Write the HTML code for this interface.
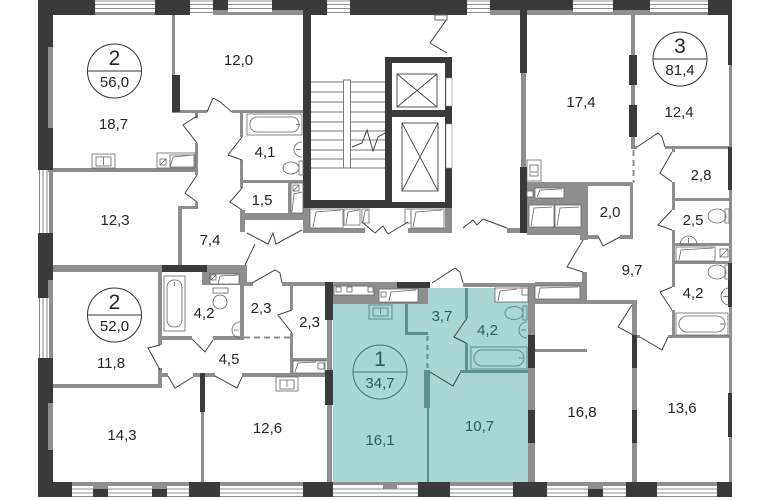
<!DOCTYPE html>
<html><head><meta charset="utf-8">
<style>
html,body{margin:0;padding:0;background:#fff;width:770px;height:500px;overflow:hidden}
svg{display:block}
.t{font-family:"Liberation Sans",Arial,sans-serif;font-size:15px;fill:#262626;text-anchor:middle}
.tb{font-family:"Liberation Sans",Arial,sans-serif;font-size:21px;fill:#262626;text-anchor:middle}
.tt{font-family:"Liberation Sans",Arial,sans-serif;font-size:15px;fill:#2d5f5b;text-anchor:middle}
.ttb{font-family:"Liberation Sans",Arial,sans-serif;font-size:21px;fill:#2d5f5b;text-anchor:middle}
</style></head><body>
<svg width="770" height="500" viewBox="0 0 770 500" xmlns="http://www.w3.org/2000/svg">
<rect width="770" height="500" fill="#fff"/>

<!-- teal apartment fill -->
<rect x="333" y="303" width="97" height="180" fill="#a9d5d3"/>
<rect x="428" y="288" width="100" height="195" fill="#a9d5d3"/>

<!-- top windows -->
<g stroke="#6a6a6a" stroke-width="0.8" fill="none">
<path d="M95 1H155M95 4.5H155M95 8.5H155M95 12.5H155"/>
<path d="M190 1H213M190 4.5H213M190 8.5H213M190 12.5H213"/>
<path d="M228 1H272M228 4.5H272M228 8.5H272M228 12.5H272"/>
<path d="M327 1H350M327 4.5H350M327 8.5H350M327 12.5H350"/>
<path d="M467 1H490M467 4.5H490M467 8.5H490M467 12.5H490"/>
<path d="M573 1H613M573 4.5H613M573 8.5H613M573 12.5H613"/>
<path d="M650 1H708M650 4.5H708M650 8.5H708M650 12.5H708"/>
<!-- left windows -->
<path d="M39.5 170V233M43 170V233M47 170V233"/>
<path d="M39.5 298V358M43 298V358M47 298V358"/>
<!-- bottom windows -->
<path d="M72 489H189M72 493H189M72 496.5H189"/>
<path d="M220 489H303M220 493H303M220 496.5H303"/>
<path d="M333 489H418M333 493H418M333 496.5H418"/>
<path d="M450 489H513M450 493H513M450 496.5H513"/>
<path d="M547 489H626M547 493H626M547 496.5H626"/>
<path d="M657 489H717M657 493H717M657 496.5H717"/>
</g>

<!-- grey walls -->
<g fill="#8e8e8e">
<!-- window sills -->
<rect x="95" y="13" width="60" height="2"/>
<rect x="228" y="13" width="44" height="2"/>
<rect x="573" y="13" width="40" height="2"/>
<rect x="650" y="13" width="58" height="2"/>
<rect x="49" y="170" width="4" height="63"/>
<rect x="49" y="298" width="4" height="60"/>
<rect x="72" y="482" width="117" height="4"/>
<rect x="220" y="482" width="83" height="4"/>
<rect x="333" y="482" width="85" height="3"/>
<rect x="450" y="482" width="63" height="4"/>
<rect x="547" y="482" width="79" height="4"/>
<rect x="657" y="482" width="60" height="4"/>
<!-- outer wall inner greys -->
<rect x="729" y="15" width="3" height="467"/>
<rect x="48" y="47" width="5" height="81"/>
<rect x="48" y="280" width="5" height="18"/>
<rect x="48" y="403" width="5" height="47"/>
<rect x="213" y="10" width="15" height="5"/>
<rect x="272" y="10" width="31" height="5"/>
<rect x="490" y="10" width="30" height="5"/>
<rect x="527" y="10" width="46" height="5"/>
<rect x="613" y="10" width="37" height="5"/>
<rect x="93" y="482" width="15" height="7"/>
<rect x="152" y="482" width="15" height="7"/>
<rect x="588" y="482" width="15" height="7"/>
<rect x="383" y="482" width="14" height="7"/>

<!-- apt 2 top -->
<rect x="172" y="15" width="3" height="60"/>
<rect x="172" y="110" width="35" height="3"/>
<rect x="232" y="110" width="73" height="3"/>
<rect x="48" y="168" width="150" height="4"/>
<rect x="195" y="112" width="3" height="6"/>
<rect x="195" y="143" width="3" height="32"/>
<rect x="195" y="202" width="3" height="7"/>
<rect x="178" y="206" width="20" height="3"/>
<rect x="178" y="206" width="4" height="62"/>
<rect x="240" y="112" width="3" height="25"/>
<rect x="240" y="160" width="3" height="28"/>
<rect x="240" y="210" width="5" height="22"/>
<rect x="243" y="180" width="62" height="3"/>
<rect x="288" y="183" width="3" height="30"/>
<rect x="240" y="213" width="65" height="7"/>
<rect x="303" y="208" width="7" height="25"/>

<!-- apt 2 bottom -->
<rect x="48" y="265" width="114" height="7"/>
<rect x="207" y="265" width="40" height="7"/>
<rect x="202" y="272" width="45" height="13"/>
<rect x="158" y="272" width="4" height="73"/>
<rect x="158" y="368" width="4" height="20"/>
<rect x="48" y="384" width="114" height="4"/>
<rect x="162" y="336" width="30" height="4"/>
<rect x="213" y="336" width="31" height="4"/>
<rect x="240" y="265" width="4" height="73"/>
<rect x="243" y="282" width="10" height="4"/>
<rect x="282" y="282" width="45" height="4"/>
<rect x="290" y="285" width="3" height="25"/>
<rect x="290" y="333" width="3" height="42"/>
<rect x="290" y="358" width="37" height="3"/>
<rect x="160" y="373" width="8" height="4"/>
<rect x="193" y="373" width="22" height="4"/>
<rect x="242" y="373" width="85" height="4"/>
<rect x="201" y="412" width="3" height="70"/>
<rect x="327" y="320" width="5" height="50"/>
<rect x="327" y="405" width="5" height="77"/>

<!-- stair / corridor -->
<rect x="303" y="228" width="62" height="5"/>
<rect x="408" y="228" width="44" height="5"/>
<rect x="445" y="208" width="7" height="25"/>
<rect x="507" y="228" width="13" height="5"/>
<rect x="521" y="73" width="5" height="94"/>

<!-- teal apt top -->
<rect x="333" y="282" width="64" height="4"/>
<rect x="333" y="285" width="95" height="19"/>
<rect x="463" y="283" width="72" height="4"/>
<rect x="528" y="283" width="7" height="199"/>

<!-- apt 3 -->
<rect x="631" y="15" width="4" height="132"/>
<rect x="631" y="146" width="6" height="3"/>
<rect x="665" y="146" width="67" height="3"/>
<rect x="527" y="182" width="105" height="4"/>
<rect x="527" y="186" width="58" height="49"/>
<rect x="584" y="183" width="4" height="57"/>
<rect x="584" y="235" width="14" height="4"/>
<rect x="620" y="235" width="12" height="4"/>
<rect x="630" y="183" width="3" height="56"/>
<rect x="582" y="272" width="5" height="31"/>
<rect x="580" y="233" width="7" height="7"/>
<rect x="535" y="282" width="47" height="3"/>
<rect x="535" y="285" width="47" height="15"/>
<rect x="672" y="147" width="3" height="5"/>
<rect x="672" y="182" width="3" height="28"/>
<rect x="672" y="230" width="3" height="57"/>
<rect x="672" y="310" width="3" height="28"/>
<rect x="672" y="198" width="60" height="3"/>
<rect x="672" y="243" width="60" height="3"/>
<rect x="672" y="261" width="60" height="3"/>
<rect x="637" y="335" width="3" height="3"/>
<rect x="668" y="335" width="64" height="3"/>
<rect x="535" y="300" width="102" height="4"/>
<rect x="632" y="300" width="5" height="182"/>
<rect x="535" y="349" width="52" height="3"/>
</g>

<!-- dark walls -->
<g fill="#3a3a3a">
<rect x="38" y="0" width="57" height="15"/>
<rect x="155" y="0" width="35" height="15"/>
<rect x="213" y="0" width="15" height="10"/>
<rect x="272" y="0" width="55" height="10"/>
<rect x="303" y="10" width="24" height="5"/>
<rect x="350" y="0" width="117" height="15"/>
<rect x="490" y="0" width="83" height="10"/>
<rect x="520" y="10" width="7" height="5"/>
<rect x="613" y="0" width="37" height="10"/>
<rect x="708" y="0" width="24" height="15"/>
<rect x="38" y="0" width="10" height="170"/>
<rect x="48" y="0" width="5" height="47"/>
<rect x="48" y="128" width="5" height="42"/>
<rect x="38" y="233" width="10" height="65"/>
<rect x="48" y="233" width="5" height="47"/>
<rect x="38" y="358" width="10" height="139"/>
<rect x="48" y="358" width="5" height="45"/>
<rect x="48" y="450" width="5" height="47"/>
<rect x="728" y="15" width="4" height="50"/>
<rect x="728" y="147" width="4" height="43"/>
<rect x="728" y="263" width="4" height="44"/>
<rect x="728" y="393" width="4" height="44"/>
<rect x="38" y="482" width="34" height="15"/>
<rect x="93" y="489" width="15" height="8"/>
<rect x="152" y="489" width="15" height="8"/>
<rect x="189" y="482" width="31" height="15"/>
<rect x="303" y="482" width="30" height="15"/>
<rect x="418" y="482" width="32" height="15"/>
<rect x="513" y="482" width="34" height="15"/>
<rect x="588" y="489" width="15" height="8"/>
<rect x="626" y="482" width="31" height="15"/>
<rect x="717" y="482" width="15" height="15"/>
<!-- interior dark -->
<rect x="172" y="75" width="8" height="37"/>
<rect x="303" y="15" width="8" height="193"/>
<rect x="303" y="200" width="149" height="8"/>
<rect x="385" y="57" width="67" height="151"/>
<rect x="520" y="15" width="7" height="58"/>
<rect x="520" y="167" width="7" height="66"/>
<rect x="162" y="265" width="45" height="7"/>
<rect x="200" y="373" width="5" height="39"/>
<rect x="325" y="282" width="8" height="38"/>
<rect x="325" y="370" width="8" height="35"/>
<rect x="397" y="282" width="33" height="6"/>
<rect x="528" y="335" width="7" height="33"/>
<rect x="528" y="410" width="7" height="33"/>
<rect x="629" y="55" width="8" height="30"/>
<rect x="629" y="105" width="8" height="32"/>
<rect x="632" y="335" width="5" height="33"/>
<rect x="632" y="410" width="5" height="33"/>
</g>

<!-- teal dark walls -->
<g fill="#5b918e">
<rect x="405" y="304" width="3" height="31"/>
<rect x="405" y="332" width="23" height="3"/>
<rect x="424" y="370" width="6" height="38"/>
<rect x="427" y="408" width="2" height="74"/>
<rect x="465" y="288" width="3" height="30"/>
<rect x="465" y="343" width="3" height="29"/>
<rect x="460" y="370" width="68" height="3"/>
</g>
<line x1="427.5" y1="336" x2="427.5" y2="370" stroke="#5b918e" stroke-width="2" stroke-dasharray="5,4"/>
<line x1="244" y1="337.5" x2="290" y2="337.5" stroke="#8e8e8e" stroke-width="2" stroke-dasharray="6,4"/>
<line x1="633.5" y1="150" x2="633.5" y2="183" stroke="#8e8e8e" stroke-width="2" stroke-dasharray="6,4"/>

<!-- lift block interior -->
<rect x="392" y="63" width="53" height="47" fill="#fff"/>
<rect x="392" y="117" width="53" height="85" fill="#fff"/>
<rect x="446" y="78" width="6" height="28" fill="#fff" stroke="#888" stroke-width="0.6"/>
<rect x="446" y="124" width="6" height="44" fill="#fff" stroke="#888" stroke-width="0.6"/>
<g stroke="#444" stroke-width="0.9" fill="none">
<rect x="397" y="74" width="40" height="33"/>
<path d="M397 74L437 107M437 74L397 107"/>
<rect x="402" y="123" width="36" height="68"/>
<path d="M402 123L438 191M438 123L402 191"/>
</g>

<!-- stairs -->
<g stroke="#7a7a7a" stroke-width="1">
<path d="M311 82H385M311 92H385M311 102H385M311 112H385M311 122H385M311 131H385M311 140H385M311 150H385M311 159H385M311 168H385"/>
</g>
<rect x="343.5" y="80" width="7" height="88" fill="#fff" stroke="#7a7a7a" stroke-width="1"/>
<polyline points="352,147 362,143 367,130 373,151 378,137 385,133" fill="none" stroke="#444" stroke-width="1"/>

<!-- white closet boxes / fixtures -->
<g fill="#fff" stroke="#666" stroke-width="0.8">
<!-- apt2 top -->
<rect x="92" y="154" width="23" height="14"/>
<rect x="157" y="153" width="38" height="15"/>
<rect x="247" y="114" width="55" height="21"/>
<rect x="291" y="183" width="12" height="30"/>
<rect x="310" y="209" width="33" height="19"/>
<rect x="344" y="209" width="16" height="16"/>
<rect x="362" y="209" width="7" height="14"/>
<rect x="405" y="209" width="6" height="14"/>
<rect x="411" y="209" width="33" height="19"/>
<!-- apt2 bottom -->
<rect x="210" y="274" width="29" height="10"/>
<rect x="164" y="276" width="21" height="55"/>
<rect x="276" y="377" width="22" height="14"/>
<rect x="293" y="361" width="32" height="12"/>
<!-- teal top closets -->
<rect x="334" y="286" width="40" height="9"/>
<rect x="379" y="289" width="39" height="13"/>
<rect x="495" y="288" width="33" height="14"/>
<rect x="522" y="288" width="6" height="7"/>
<rect x="535" y="286" width="45" height="13"/>
<!-- apt 3 -->
<rect x="527" y="160" width="14" height="21"/>
<rect x="535" y="188" width="29" height="10"/>
<rect x="527" y="191" width="6" height="6"/>
<rect x="529" y="205" width="25" height="22"/>
<rect x="555" y="205" width="26" height="22"/>
<rect x="676" y="247" width="39" height="14"/>
<rect x="720" y="249" width="8" height="8"/>
<rect x="676" y="313" width="52" height="22"/>
</g>
<g fill="none" stroke="#666" stroke-width="0.8">
<rect x="96" y="157" width="15" height="9"/>
<path d="M103.5 157V165"/>
<rect x="160" y="159" width="6" height="6"/><path d="M160 165L166 159"/>
<polyline points="170,167 173,157 193,155"/><rect x="170" y="155" width="24" height="12"/>
<rect x="250" y="117" width="49" height="15" rx="7"/>
<path d="M296 124.5h4"/>
<path d="M302 142A8 7.5 0 0 0 302 157"/><path d="M296 149.5h5"/>
<ellipse cx="291" cy="168" rx="8" ry="6"/><rect x="299" y="161" width="4" height="14"/>
<rect x="293" y="185" width="6" height="6"/><path d="M293 191L299 185"/>
<polyline points="292,212 294,194 302,192"/>
<polyline points="313,227 316,212 341,210"/>
<polyline points="346,224 348,212 359,210"/>
<polyline points="363,222 365,211 368,210"/>
<polyline points="413,227 416,212 442,210"/>
<rect x="211" y="275" width="5" height="5"/><path d="M211 280L216 275"/>
<polyline points="218,284 220,276 238,275"/>
<rect x="167" y="280" width="15" height="47" rx="7"/><path d="M174.5 282v4"/>
<ellipse cx="220" cy="302" rx="7" ry="7"/><rect x="213" y="288" width="15" height="5"/>
<path d="M240 322A8 8 0 0 0 240 338"/><path d="M234 330h5"/>
<rect x="280" y="380" width="14" height="9"/><path d="M287 380v7"/>
<polyline points="295,372 298,363 316,362"/><rect x="318" y="363" width="6" height="6"/>
<rect x="336" y="287" width="5" height="5"/><rect x="347" y="287" width="5" height="5"/><rect x="368" y="287" width="5" height="5"/>
<rect x="381" y="292" width="5" height="5"/>
<polyline points="389,301 391,292 416,290"/>
<polyline points="498,301 500,291 517,289"/>
<polyline points="538,298 540,288 578,287"/>
<rect x="530" y="165" width="8" height="11"/><path d="M531 172h6"/>
<polyline points="537,197 540,190 562,189"/>
<polyline points="531,226 534,208 552,207"/>
<polyline points="557,226 560,208 579,207"/>
<ellipse cx="717" cy="216" rx="9" ry="7"/><rect x="725" y="209" width="4" height="14"/>
<path d="M680 245A8.5 9 0 0 1 697 245Z"/><path d="M688.5 238v5"/>
<polyline points="679,260 681,250 713,248"/>
<path d="M720 257L728 249"/>
<ellipse cx="717" cy="272" rx="9" ry="7"/><rect x="725" y="265" width="4" height="14"/>
<path d="M729 288A8 8.5 0 0 0 729 305"/><path d="M723 296.5h5"/>
<rect x="679" y="316" width="46" height="16" rx="8"/><path d="M720 324h5"/>
</g>
<!-- teal fixtures -->
<g fill="none" stroke="#5b918e" stroke-width="1">
<rect x="369" y="305" width="23" height="14"/>
<rect x="373" y="308" width="15" height="8"/><path d="M380.5 308v6"/>
<ellipse cx="514" cy="313" rx="9" ry="6.5"/><rect x="523" y="306" width="4" height="14"/>
<path d="M527 322A8 8 0 0 0 527 338"/><path d="M521 330h5"/>
<rect x="471" y="347" width="56" height="22"/>
<rect x="474" y="350" width="50" height="16" rx="8"/><path d="M519 358h5"/>
</g>

<!-- doors -->
<g fill="none" stroke="#444" stroke-width="1">
<polyline points="197,116 183,125 197,143"/>
<polyline points="197,175 185,193 197,202"/>
<polyline points="207,112 213,98 219,101 232,112"/>
<polyline points="242,137 228,155 242,160"/>
<polyline points="242,188 230,202 242,210"/>
<polyline points="247,233 268,244 273,233 276,244 302,230"/>
<polyline points="255,244 245,265"/>
<polyline points="252,283 275,270 280,273 282,283"/>
<polyline points="292,310 278,315 292,333"/>
<polyline points="192,339 205,352 213,340"/>
<polyline points="160,345 148,348 160,370"/>
<polyline points="168,376 175,388 193,377"/>
<polyline points="215,376 237,388 242,377"/>
<polyline points="432,283 455,268 460,272 463,283"/>
<polyline points="467,318 454,337 466,343"/>
<polyline points="430,372 453,386 460,373"/>
<polyline points="362,222 375,233 383,226 388,234 408,222"/>
<polyline points="463,228 473,220 477,225 483,219 507,228"/>
<polyline points="447,19 430,43 447,53"/>
<rect x="435" y="15" width="12" height="5" fill="#fff" stroke="#666"/>
<polyline points="583,240 567,267 583,272"/>
<polyline points="598,236 603,246 620,237"/>
<polyline points="637,147 658,133 662,137 665,147"/>
<polyline points="672,152 660,173 672,182"/>
<polyline points="672,210 658,225 672,230"/>
<polyline points="672,287 660,292 672,310"/>
<polyline points="632,305 618,327 633,335"/>
<polyline points="640,337 662,350 668,337"/>
</g>

<!-- circles -->
<g fill="none" stroke="#333" stroke-width="1">
<circle cx="114.5" cy="71" r="27"/><line x1="87.5" y1="71" x2="141.5" y2="71"/>
<circle cx="114.5" cy="315" r="27"/><line x1="87.5" y1="315" x2="141.5" y2="315"/>
<circle cx="680" cy="59" r="27"/><line x1="653" y1="59" x2="707" y2="59"/>
</g>
<g fill="none" stroke="#3f7773" stroke-width="1">
<circle cx="380" cy="372" r="27"/><line x1="353" y1="372" x2="407" y2="372"/>
</g>

<!-- labels -->
<text class="tb" x="114.5" y="65">2</text>
<text class="t" x="114.5" y="87">56,0</text>
<text class="tb" x="114.5" y="309">2</text>
<text class="t" x="114.5" y="331">52,0</text>
<text class="tb" x="680" y="53">3</text>
<text class="t" x="680" y="75">81,4</text>
<text class="ttb" x="380" y="366">1</text>
<text class="tt" x="380" y="388">34,7</text>

<text class="t" x="238.5" y="65">12,0</text>
<text class="t" x="113.5" y="129">18,7</text>
<text class="t" x="265" y="157">4,1</text>
<text class="t" x="262" y="205">1,5</text>
<text class="t" x="115" y="225">12,3</text>
<text class="t" x="210" y="245">7,4</text>
<text class="t" x="111" y="368">11,8</text>
<text class="t" x="204" y="318">4,2</text>
<text class="t" x="261" y="313">2,3</text>
<text class="t" x="309.5" y="327">2,3</text>
<text class="t" x="229" y="364">4,5</text>
<text class="t" x="122" y="440">14,3</text>
<text class="t" x="267.5" y="433">12,6</text>
<text class="tt" x="442" y="321">3,7</text>
<text class="tt" x="487.5" y="335">4,2</text>
<text class="tt" x="380" y="445">16,1</text>
<text class="tt" x="479.5" y="431">10,7</text>
<text class="t" x="581" y="107">17,4</text>
<text class="t" x="679" y="117">12,4</text>
<text class="t" x="701" y="180">2,8</text>
<text class="t" x="610" y="217">2,0</text>
<text class="t" x="693" y="225">2,5</text>
<text class="t" x="632" y="275">9,7</text>
<text class="t" x="693" y="298">4,2</text>
<text class="t" x="582" y="417">16,8</text>
<text class="t" x="682" y="413">13,6</text>
</svg>
</body></html>
